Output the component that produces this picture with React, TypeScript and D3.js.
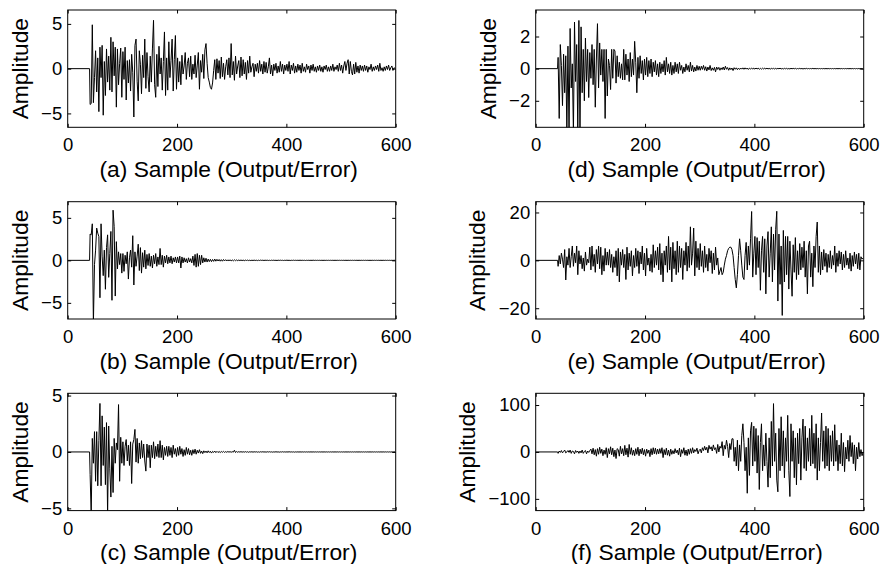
import React, { useEffect, useRef } from 'react';
import * as d3 from 'd3';

// sample axis
const xTicks = [0, 200, 400, 600];
const silentSamples = [0, 40]; // output is zero before the signal starts
const sampleStart = 41;
const sampleStep = 2;

// (a)
const seriesA = [
  -4.0, -3.9, 4.9, -3.8, -1.0, 2.0, -2.6, 1.2, -4.8, 2.4,
  -1.0, 2.6, -5.2, 0.8, -3.0, 2.2, -1.5, 1.4, -2.4, 3.5,
  -2.6, 3.0, -0.8, 2.4, -4.3, 2.2, -1.8, 0.6, 2.3, -3.2,
  1.9, -1.2, 2.4, -3.5, 0.9, -1.6, 1.0, -2.5, 1.6, -0.4,
  -5.4, 2.6, 3.3, -1.4, -3.6, 2.0, 0.5, -2.8, 1.5, -1.0,
  3.3, -2.2, 1.8, -0.9, -2.6, 1.4, -1.5, 2.2, 5.4, -1.8,
  -3.2, 1.6, -2.0, 2.5, -0.6, 1.2, -2.4, 0.8, 4.1, -3.0,
  1.2, -2.4, 3.0, -1.0, 0.9, 3.3, -2.5, 1.0, 3.7, -2.3,
  1.2, -1.5, 0.8, -1.8, 1.5, -0.6, 0.3, 1.8, -1.2, 0.6,
  1.2, -0.9, 1.4, -1.2, 0.5, -0.6, 1.5, -1.0, 0.4, 1.8,
  -2.3, 0.9, -0.4, 1.6, -1.1, 2.1, 2.8, 0.6, -1.0, -1.5,
  -2.1, -2.3, -1.6, -0.2, 1.0, -1.2, 1.1, -0.5, 0.9, -1.1,
  1.3, -0.9, 0.6, -1.2, 0.2, 1.0, -0.7, 1.2, -1.0, 2.8,
  -0.7, 0.8, -1.3, 1.4, -0.6, 0.3, 0.9, -1.0, 1.3, -0.8,
  1.0, -0.6, 0.7, -1.2, 0.9, -0.5, 1.4, -0.4, 0.2, 0.6,
  -0.9, 0.5, -0.3, 0.6, -0.5, 0.9, -0.3, 0.5, -0.6, 0.8,
  -0.4, 0.7, -0.5, 0.2, 1.2, -0.6, 0.4, -0.8, 0.5, -0.2,
  0.6, -0.5, 0.3, -0.4, 0.8, -0.3, 0.5, -0.6, 0.4, -0.2,
  0.5, -0.3, 0.8, -0.6, 0.4, -0.2, 0.6, -0.5, 0.3, -0.4,
  0.5, -0.2, 0.4, -0.5, 0.6, -0.3, 0.2, -0.4, 0.5, -0.1,
  0.3, -0.5, 0.4, -0.2, 0.5, -0.3, 0.2, -0.4, 0.3, -0.2,
  0.4, -0.3, 0.2, -0.4, 0.3, -0.1, 0.4, -0.3, 0.2, -0.3,
  0.3, -0.2, 0.5, -0.3, 0.2, -0.1, 0.4, -0.3, 0.6, -0.2,
  0.4, -0.5, 0.3, 0.8, -0.2, 0.6, 1.0, -0.6, 0.8, -0.3,
  -0.7, 0.5, -0.6, 0.7, -0.4, 0.3, -0.5, 0.4, -0.2, 0.3,
  -0.3, 0.4, -0.2, 0.3, -0.4, 0.2, -0.1, 0.5, -0.3, 0.2,
  -0.2, 0.3, -0.1, 0.4, -0.3, 0.6, -0.2, 0.1, -0.3, 0.2,
  -0.2, 0.3, -0.1, 0.4, -0.2, 0.1, 0.3, -0.2, 0.1, 0.0,
];

// (b)
const seriesB = [
  3.1, 3.0, 4.3, -7.5, -0.5, 1.2, 3.8, 3.2, 2.8, -4.4,
  4.3, 0.5, -1.8, 1.2, -3.4, 1.5, 3.0, -2.0, 0.8, 3.4,
  -4.7, 5.9, 4.0, -4.2, 2.2, -1.0, 1.0, -0.5, 0.8, -1.5,
  0.8, -1.3, 0.6, -0.4, 1.0, -2.2, 0.3, 1.2, -0.8, 2.9,
  -2.9, 1.0, -0.7, 0.5, 1.9, -1.2, 1.5, -1.5, 0.9, -0.8,
  1.2, -1.0, 0.7, -0.6, 0.8, -0.7, 0.5, -0.9, 0.6, -0.4,
  0.8, -0.7, 0.4, -0.5, 1.4, -0.5, 0.6, -0.8, 0.5, -0.3,
  0.6, -0.4, 0.4, -0.3, 0.5, -0.4, 0.3, -0.2, 0.4, -0.3,
  0.4, -0.3, 0.5, -0.9, 0.4, -0.3, 0.3, -0.2, 0.2, -0.3,
  0.3, -0.2, 0.2, -0.3, 0.5, -0.6, 0.7, -0.8, 0.8, -0.7,
  0.6, -0.5, 0.6, -0.3, 0.3, -0.2, 0.25, -0.2, 0.15, -0.15,
  0.12, -0.15, 0.1, -0.12, 0.15, -0.1, 0.12, -0.08, 0.1, -0.1,
  0.08, -0.1, 0.1, -0.06, 0.08, -0.08, 0.06, -0.05, 0.06, -0.06,
  0.05, -0.06, 0.06, -0.04, 0.05, -0.04, 0.04, -0.03, 0.04, -0.03,
  0.03, -0.04, 0.03, -0.02, 0.03, -0.03, 0.02, -0.03, 0.02, -0.02,
  0.03, -0.02, 0.02, -0.03, 0.02, -0.02, 0.03, -0.01, 0.02, -0.02,
  0.02, -0.01, 0.02, -0.02, 0.01, -0.02, 0.02, -0.01, 0.02, -0.01,
  0.01, -0.02, 0.02, -0.01, 0.02, -0.01, 0.01, -0.02, 0.01, -0.01,
  0.02, -0.01, 0.01, -0.02, 0.01, -0.01, 0.02, -0.01, 0.01, -0.01,
  0.01, -0.01, 0.02, -0.01, 0.01, -0.01, 0.01, -0.02, 0.01, -0.01,
  0.01, -0.01, 0.01, -0.01, 0.02, -0.01, 0.01, -0.01, 0.01, -0.01,
  0.01, -0.01, 0.01, -0.01, 0.01, -0.01, 0.01, -0.01, 0.01, -0.01,
  0.01, -0.01, 0.01, -0.01, 0.01, -0.01, 0.01, -0.01, 0.01, -0.01,
  0.01, -0.01, 0.01, -0.01, 0.01, -0.01, 0.01, -0.01, 0.01, -0.01,
  0.01, -0.01, 0.01, -0.01, 0.01, -0.01, 0.01, -0.01, 0.01, -0.01,
  0.01, -0.01, 0.01, -0.01, 0.01, -0.01, 0.01, -0.01, 0.01, -0.01,
  0.01, -0.01, 0.01, -0.01, 0.01, -0.01, 0.01, -0.01, 0.01, -0.01,
  0.01, -0.01, 0.01, -0.01, 0.01, -0.01, 0.01, -0.01, 0.01, 0.0,
];

// (c)
const seriesC = [
  -2.0, -5.6, 1.2, -1.0, 1.8, -2.6, 1.8, -3.0, 1.0, 4.3,
  -3.0, 3.2, -1.2, 2.2, -2.9, 2.6, -5.6, 2.3, -1.5, -4.0,
  0.5, -3.6, 1.2, -1.0, 0.8, 0.2, 4.2, -2.6, 1.3, -1.0,
  0.9, -1.2, 0.5, 1.1, -0.8, 0.6, -1.2, 0.9, -2.8, 0.7,
  1.1, 2.0, -0.9, 1.2, -1.0, 0.8, -0.6, 1.0, -0.5, 0.7,
  -0.8, -1.7, 0.7, -0.5, 0.6, -1.4, 0.6, -0.5, 0.9, -0.6,
  0.5, -0.4, 0.7, -0.5, 1.0, -0.5, 0.6, -0.7, 0.4, -0.3,
  0.5, -0.4, 0.5, -0.3, 0.4, -0.5, 0.6, -0.2, 0.3, -0.4,
  0.4, -0.3, 0.5, -0.2, 0.3, -0.4, 0.2, -0.3, 0.4, -0.2,
  0.3, -0.25, 0.15, -0.3, 0.2, -0.15, 0.25, -0.2, 0.15, -0.1,
  0.2, -0.12, 0.08, -0.15, 0.1, -0.06, 0.08, -0.08, 0.1, -0.05,
  0.06, -0.1, 0.05, -0.04, 0.08, -0.06, 0.05, -0.05, 0.04, -0.05,
  0.04, -0.03, 0.05, -0.04, 0.03, -0.03, 0.04, -0.02, 0.03, -0.03,
  0.03, -0.02, 0.15, -0.05, 0.04, -0.03, 0.03, -0.02, 0.03, -0.02,
  0.02, -0.02, 0.03, -0.02, 0.02, -0.03, 0.02, -0.01, 0.02, -0.02,
  0.02, -0.01, 0.02, -0.02, 0.01, -0.02, 0.02, -0.01, 0.02, -0.01,
  0.01, -0.02, 0.02, -0.01, 0.02, -0.01, 0.01, -0.02, 0.01, -0.01,
  0.02, -0.01, 0.01, -0.02, 0.01, -0.01, 0.02, -0.01, 0.01, -0.01,
  0.01, -0.01, 0.02, -0.01, 0.01, -0.01, 0.01, -0.02, 0.01, -0.01,
  0.01, -0.01, 0.01, -0.01, 0.01, -0.01, 0.01, -0.01, 0.01, -0.01,
  0.01, -0.01, 0.01, -0.01, 0.01, -0.01, 0.01, -0.01, 0.01, -0.01,
  0.01, -0.01, 0.01, -0.01, 0.01, -0.01, 0.01, -0.01, 0.01, -0.01,
  0.01, -0.01, 0.01, -0.01, 0.01, -0.01, 0.01, -0.01, 0.01, -0.01,
  0.01, -0.01, 0.01, -0.01, 0.01, -0.01, 0.01, -0.01, 0.01, -0.01,
  0.01, -0.01, 0.01, -0.01, 0.01, -0.01, 0.01, -0.01, 0.01, -0.01,
  0.01, -0.01, 0.01, -0.01, 0.01, -0.01, 0.01, -0.01, 0.01, -0.01,
  0.01, -0.01, 0.01, -0.01, 0.01, -0.01, 0.01, -0.01, 0.01, -0.01,
  0.01, -0.01, 0.01, -0.01, 0.01, -0.01, 0.01, -0.01, 0.01, 0.0,
];

// (d)
const seriesD = [
  0.7, -3.1, 1.5, 0.2, -2.3, 0.9, -1.5, 0.8, -3.9, 1.4,
  -4.0, 2.5, -1.2, 0.3, -4.0, 2.9, -0.8, 1.5, -3.9, 3.0,
  -4.0, 2.6, -1.5, 1.2, -2.0, 1.9, -0.8, 1.2, -1.8, 1.0,
  -0.6, 1.5, -1.0, 1.2, -2.4, 0.6, 2.8, -1.2, 1.6, -0.4,
  1.2, -0.8, 1.2, -3.1, 1.2, -1.7, 0.6, 0.2, -1.3, 1.2,
  -0.6, 1.2, 1.1, -0.9, 0.8, -0.5, 0.4, -0.6, 0.3, -0.7,
  1.2, -0.7, 0.9, -0.4, 0.6, -0.8, 1.0, -0.5, 0.6, -0.4,
  1.7, 0.4, -1.5, 0.7, -0.6, 0.8, -0.3, 0.5, -0.7, 0.6,
  -0.4, 0.7, -0.5, 0.5, -0.3, 0.6, -0.5, 0.4, -0.2, 0.5,
  -0.4, 0.3, -0.5, 0.4, -0.3, 0.3, -0.2, 0.5, -0.4, 0.7,
  -0.2, 0.3, -0.3, 0.4, -0.4, 0.2, -0.3, 0.4, -0.2, 0.3,
  -0.3, 0.4, -0.1, 0.2, -0.3, 0.1, -0.2, 0.3, -0.1, 0.2,
  -0.2, 0.4, -0.15, 0.2, -0.2, 0.1, -0.15, 0.2, -0.1, 0.15,
  -0.1, 0.15, -0.05, 0.2, -0.1, 0.12, -0.15, 0.1, -0.08, 0.2,
  -0.12, 0.05, -0.1, 0.08, -0.2, 0.1, -0.05, 0.08, -0.1, 0.05,
  -0.06, 0.1, -0.08, 0.15, -0.04, 0.07, -0.1, 0.05, -0.06, 0.04,
  -0.12, 0.06, -0.04, 0.05, -0.06, 0.03, -0.05, 0.04, -0.03, 0.05,
  -0.04, 0.05, -0.03, 0.04, -0.05, 0.03, -0.02, 0.04, -0.03, 0.03,
  -0.03, 0.04, -0.02, 0.03, -0.04, 0.02, -0.03, 0.03, -0.02, 0.03,
  -0.02, 0.03, -0.02, 0.02, -0.03, 0.02, -0.01, 0.02, -0.02, 0.02,
  -0.02, 0.02, -0.01, 0.03, -0.02, 0.01, -0.02, 0.02, -0.01, 0.02,
  -0.02, 0.01, -0.02, 0.02, -0.01, 0.02, -0.01, 0.02, -0.02, 0.01,
  -0.01, 0.02, -0.01, 0.01, -0.02, 0.01, -0.01, 0.02, -0.01, 0.01,
  -0.01, 0.01, -0.01, 0.02, -0.01, 0.01, -0.01, 0.01, -0.01, 0.01,
  -0.01, 0.01, -0.01, 0.01, -0.01, 0.01, -0.01, 0.01, -0.01, 0.01,
  -0.01, 0.01, -0.01, 0.01, -0.01, 0.01, -0.01, 0.01, -0.01, 0.01,
  -0.01, 0.01, -0.01, 0.01, -0.01, 0.01, -0.01, 0.01, -0.01, 0.01,
  -0.01, 0.01, -0.01, 0.01, -0.01, 0.01, -0.01, 0.01, -0.01, 0.0,
];

// (e)
const seriesE = [
  -2.5, 2.0, -1.5, 3.0, 0.5, -3.0, 4.5, -8.2, 1.5, -2.0,
  5.0, -3.0, 1.5, 6.0, -2.5, 3.0, -1.0, 6.0, -6.0, 4.0,
  -1.5, 2.0, -3.5, 1.0, -4.5, 3.5, -2.0, 0.5, -1.0, 5.5,
  -4.0, 6.0, -2.5, 2.5, -5.0, 4.5, -1.5, 6.0, -3.5, 5.5,
  -6.0, 2.0, -4.5, 5.0, -2.0, 3.5, -2.0, 4.5, -3.0, 2.5,
  -5.0, 1.5, -3.0, 4.0, -6.5, 5.0, -9.0, 3.5, -2.0, 4.5,
  -3.0, 2.5, -8.0, 5.5, -4.0, 3.0, -2.5, 4.0, -6.5, 2.0,
  -3.0, 5.0, -2.5, 4.0, -5.5, 3.5, -1.5, 6.0, -4.0, 3.0,
  -6.5, 5.0, -2.0, 1.0, -4.5, 2.5, -5.0, 6.5, -3.0, 4.0,
  -2.0, 5.5, -4.0, 7.0, -6.0, 3.0, -9.0, 4.0, -2.0, 6.0,
  -5.0, 10.0, -4.0, 5.5, -9.0, 7.5, -3.5, 4.0, -6.0, 8.0,
  -5.0, 6.0, -3.0, 5.0, -8.0, 4.0, -2.0, 7.5, -4.5, 6.0,
  -3.0, 14.0, -2.0, 3.0, 13.5, -6.5, 8.0, -3.0, 5.0, -4.0,
  7.0, -2.5, 4.0, -5.0, 6.0, -3.0, 2.5, -4.5, 5.0, -1.0,
  4.0, -5.5, 3.0, -4.0, 5.5, -2.0, 1.0, -6.0, -4.5, -3.0,
  -6.0, -5.0, -2.0, 0.5, 2.0, 4.0, 5.0, 5.5, 5.5, 4.5,
  2.0, -3.0, -8.0, -11.5, -6.0, 2.0, 9.0, 4.0, -2.0, -7.0,
  -8.0, 2.0, 7.5, -4.0, 6.0, -2.0, 9.0, 20.4, -7.0, 3.0,
  10.0, -6.0, 9.5, -3.0, 8.0, -12.5, 4.0, 10.0, -5.0, 9.0,
  -14.0, 6.0, 12.0, -7.0, 3.0, 14.0, -9.0, 11.0, -4.0, 13.0,
  20.5, -17.0, 11.0, -10.0, 6.0, -23.0, 12.5, -9.0, 10.0, -6.0,
  10.0, -12.0, 8.0, -4.0, -15.0, 6.5, -5.0, 9.5, -8.0, 4.0,
  -6.0, 7.0, -4.0, 5.5, -3.0, 8.0, -7.0, 4.0, -14.0, 6.0,
  8.0, -7.0, 3.0, -11.0, 6.0, -3.0, 10.0, 16.0, -5.0, 6.0,
  -6.0, 3.5, -4.0, 4.5, -2.5, 3.0, -5.0, 2.5, -3.0, 4.0,
  -3.5, 2.0, -2.0, 6.0, -5.0, 3.0, -2.5, 4.0, -1.5, 3.5,
  -4.0, 2.5, -3.0, 4.0, -2.0, 1.0, -3.5, 3.0, -4.5, 2.0,
  -2.5, 3.5, -1.5, 2.5, -3.5, 3.0, -4.0, 1.5, 0.5, 1.0,
];

// (f)
const seriesF = [
  -3, 2, -1, 3, -2, 1, 4, -2, 0, 3,
  -1, 4, -3, 2, 1, -4, 3, -1, 2, -3,
  2, -2, 4, -3, 1, 3, -4, 2, -1, 3,
  6, -4, 8, -6, 5, -9, 7, -5, 10, -3,
  6, -8, 4, -5, 9, -12, 7, -4, 11, -6,
  8, -10, 4, -14, 7, 5, -9, 12, -4, 7,
  -8, 14, -6, 8, -11, 16, -5, 9, -7, 4,
  -8, 7, -5, 10, -8, 6, -4, 8, -6, 5,
  -9, 6, -3, 4, -10, 7, -6, 9, -4, 8,
  -5, 6, -4, 7, -3, 9, -12, 5, -6, 8,
  -7, 4, -9, 6, -5, 3, -4, 7, -2, 4,
  -6, 8, -10, 5, -3, 9, -7, 4, -8, 6,
  -5, 7, -3, 9, -2, 5, 1, 8, -4, 3,
  6, -2, 9, 3, 12, 4, 10, -2, 14, 6,
  11, 2, 15, 5, 9, -3, 16, 0, 12, 8,
  22, -8, 14, 6, 25, 12, -12, 18, 5, 28,
  28, -20, 10, -30, 25, -40, 15, -20, 35, 60,
  20, -40, 10, -88, 30, -50, 45, 63, -30, 55,
  -20, 50, -45, 35, -80, 20, 60, -40, 15, -30,
  40, -20, -75, 30, -55, 65, -30, 103, -20, 40,
  -60, -85, 50, -40, 75, -30, 45, -55, 30, -20,
  78, -40, -95, 60, -20, 45, -55, 30, -70, 40,
  -25, 50, -60, 30, 70, -35, 55, -40, 30, -20,
  50, -30, 78, -25, 40, -35, 60, -60, 30, -40,
  20, 83, -20, 45, -35, 55, -30, 50, -40, 35,
  -20, 45, -30, 58, -20, 25, -40, 15, -25, 40,
  -30, 20, -42, 10, -15, 25, -20, 35, -10, 20,
  -25, 15, -40, 10, -15, 20, -10, 5, -8, 0,
];

const panels = [
  { label: '(a)', values: seriesA, yMax: 6.55, yTicks: [-5, 0, 5], col: 0, row: 0 },
  { label: '(b)', values: seriesB, yMax: 6.9, yTicks: [-5, 0, 5], col: 0, row: 1 },
  { label: '(c)', values: seriesC, yMax: 5.2, yTicks: [-5, 0, 5], col: 0, row: 2 },
  { label: '(d)', values: seriesD, yMax: 3.65, yTicks: [-2, 0, 2], col: 1, row: 0 },
  { label: '(e)', values: seriesE, yMax: 24.5, yTicks: [-20, 0, 20], col: 1, row: 1 },
  { label: '(f)', values: seriesF, yMax: 125, yTicks: [-100, 0, 100], col: 1, row: 2 },
];

const width = 882;
const height = 564;
const colLeft = [67.7, 535.7];
const rowTop = [10, 201.7, 393.3];
const plotW = 328;
const plotH = 117.3;
const font = '"Liberation Sans", Arial, Helvetica, sans-serif';

const App = () => {
  const ref = useRef<SVGSVGElement>(null);

  useEffect(() => {
    const svg = d3.select(ref.current);
    svg.selectAll('*').remove();

    panels.forEach((p, i) => {
      const left = colLeft[p.col];
      const top = rowTop[p.row];

      const x = d3.scaleLinear().domain([0, 600]).range([left, left + plotW]);
      const y = d3.scaleLinear().domain([-p.yMax, p.yMax]).range([top + plotH, top]);

      const g = svg.append('g');
      const clipId = `clip-${i}`;
      g.append('clipPath').attr('id', clipId)
        .append('rect')
        .attr('x', left).attr('y', top)
        .attr('width', plotW).attr('height', plotH);

      const points: [number, number][] = [
        ...silentSamples.map(s => [s, 0] as [number, number]),
        ...p.values.map((v, j) => [sampleStart + j * sampleStep, v] as [number, number]),
      ];

      const line = d3.line<[number, number]>()
        .x(d => x(d[0]))
        .y(d => y(d[1]));

      g.append('path')
        .attr('d', line(points))
        .attr('fill', 'none')
        .attr('stroke', '#000')
        .attr('stroke-width', 1)
        .attr('clip-path', `url(#${clipId})`);

      // inward ticks on all four sides, labels only bottom/left
      g.append('g')
        .attr('transform', `translate(0,${top + plotH})`)
        .call(d3.axisBottom(x).tickValues(xTicks).tickSizeInner(-3.5).tickSizeOuter(0).tickPadding(11));
      g.append('g')
        .attr('transform', `translate(0,${top})`)
        .call(d3.axisTop(x).tickValues(xTicks).tickSizeInner(-3.5).tickSizeOuter(0).tickFormat(() => ''));
      const leftAxis = g.append('g')
        .attr('transform', `translate(${left},0)`)
        .call(d3.axisLeft(y).tickValues(p.yTicks).tickSizeInner(-3.5).tickSizeOuter(0).tickPadding(5.5));
      g.append('g')
        .attr('transform', `translate(${left + plotW},0)`)
        .call(d3.axisRight(y).tickValues(p.yTicks).tickSizeInner(-3.5).tickSizeOuter(0).tickFormat(() => ''));

      g.selectAll('.domain').remove();
      g.selectAll('.tick line').attr('stroke', '#000').attr('stroke-width', 1);
      g.selectAll('.tick text')
        .attr('fill', '#000')
        .style('font-family', font)
        .style('font-size', '18.5px');

      g.append('rect')
        .attr('x', left).attr('y', top)
        .attr('width', plotW).attr('height', plotH)
        .attr('fill', 'none')
        .attr('stroke', '#000')
        .attr('stroke-width', 1);

      // y label sits left of the widest tick label
      let minX = left - 5.5;
      leftAxis.selectAll<SVGTextElement, unknown>('.tick text').each(function () {
        minX = Math.min(minX, left - 5.5 - this.getComputedTextLength());
      });

      g.append('text')
        .attr('transform', `translate(${minX - 13.5},${top + plotH / 2}) rotate(-90)`)
        .attr('text-anchor', 'middle')
        .style('font-family', font)
        .style('font-size', '22.8px')
        .text('Amplitude');

      g.append('text')
        .attr('x', left + plotW / 2 - 3)
        .attr('y', top + plotH + 49.8)
        .attr('text-anchor', 'middle')
        .style('font-family', font)
        .style('font-size', '22.8px')
        .text(`${p.label} Sample (Output/Error)`);
    });
  }, []);

  return (
    <svg
      ref={ref}
      width={width}
      height={height}
      style={{ position: 'absolute', left: 0, top: 0, background: '#fff' }}
    />
  );
};

export default App;
